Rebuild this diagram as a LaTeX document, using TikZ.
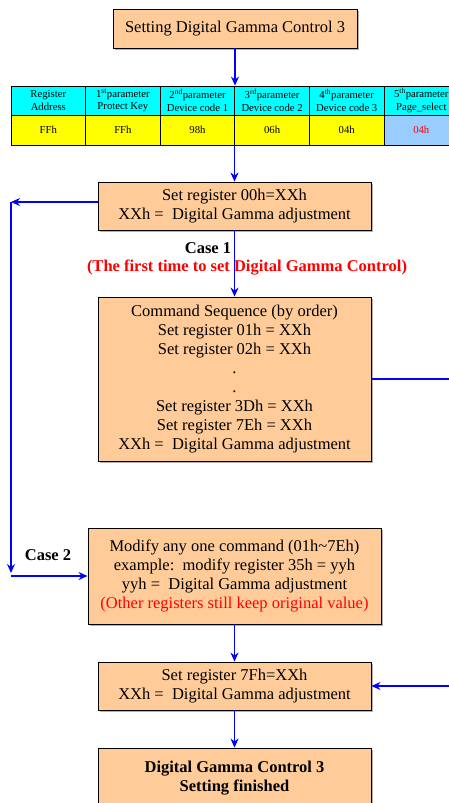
\documentclass[tikz,border=0pt]{standalone}
\usepackage{fontspec}
\setmainfont{Liberation Serif}
\usetikzlibrary{positioning,arrows.meta,shadows}
\definecolor{peach}{HTML}{FFCC99}
\definecolor{cellcyan}{HTML}{00FFFF}
\definecolor{cellyellow}{HTML}{FFFF00}
\definecolor{cellblue}{HTML}{99CCFF}
\definecolor{flowblue}{HTML}{0000FF}
\definecolor{notered}{HTML}{FF0000}

\begin{document}
\begin{tikzpicture}[x=1pt,y=-1pt,>={Stealth[length=9pt,width=8pt]},
   box/.style={draw=black,line width=0.9pt,fill=peach,align=center,inner sep=0pt,
     font=\fontsize{16.5}{19}\selectfont,
     drop shadow={shadow xshift=1.6pt,shadow yshift=-1.6pt,fill=gray!60,opacity=1}},
   cell/.style={draw=black,line width=0.8pt,align=center,inner sep=0pt,
     minimum width=74.6pt,font=\fontsize{10.7}{12.5}\selectfont},
   flow/.style={draw=flowblue,line width=1.3pt},
   caselabel/.style={font=\fontsize{16.5}{19}\selectfont\bfseries}]
  \clip (0,0) rectangle (449,803);
  \useasboundingbox (0,0) rectangle (449,803);
  \node[box,minimum width=244pt,minimum height=39pt] (start) at (235,28.5)
    {Setting Digital Gamma Control 3};
  % register table
  \foreach \head/\val/\col [count=\i] in {%
      {Register\\Address}/FFh/cellyellow,
      {1\textsuperscript{st}parameter\\Protect Key}/FFh/cellyellow,
      {2\textsuperscript{nd}parameter\\Device code 1}/98h/cellyellow,
      {3\textsuperscript{rd}parameter\\Device code 2}/06h/cellyellow,
      {4\textsuperscript{th}parameter\\Device code 3}/04h/cellyellow,
      {5\textsuperscript{th}parameter\\Page\_select}/\textcolor{notered}{04h}/cellblue} {
    \node[cell,fill=cellcyan,minimum height=29pt] (h\i) at ({11+74.6*(\i-0.5)},100.5) {\head};
    \node[cell,fill=\col,minimum height=30pt] (v\i) at ({11+74.6*(\i-0.5)},130) {\val};
  }
  \node[box,minimum width=273pt,minimum height=48pt] (reg00) at (234.5,206)
    {Set register 00h=XXh\\XXh =\ \ Digital Gamma adjustment};
  \node[box,minimum width=273pt,minimum height=164pt] (seq) at (234.5,379)
    {Command Sequence (by order)\\Set register 01h = XXh\\Set register 02h = XXh\\.\\.\\
     Set register 3Dh = XXh\\Set register 7Eh = XXh\\XXh =\ \ Digital Gamma adjustment};
  \node[box,minimum width=293pt,minimum height=96pt] (modify) at (234.5,576)
    {Modify any one command (01h\textasciitilde7Eh)\\example:\ \ modify register 35h = yyh\\
     yyh =\ \ Digital Gamma adjustment\\\textcolor{notered}{(Other registers still keep original value)}};
  \node[box,minimum width=273pt,minimum height=48pt] (reg7f) at (234.5,686)
    {Set register 7Fh=XXh\\XXh =\ \ Digital Gamma adjustment};
  \node[box,minimum width=273pt,minimum height=60pt,font=\fontsize{16.5}{19}\selectfont\bfseries]
    (done) at (234.5,778) {Digital Gamma Control 3\\Setting finished};
  \node[caselabel] (case1) at (208,248) {Case 1};
  \node[caselabel,text=notered] (case1note) at (247,268)
    {(The first time to set Digital Gamma Control)};
  \node[caselabel] (case2) at (48,555) {Case 2};
  % connectors
  \coordinate (lefttop) at (11,202);
  \coordinate (leftbot) at (11,576);
  \draw[flow,->] (start.south) -- (start.south |- h4.north);
  \draw[flow,->] (reg00.north |- v4.south) -- (reg00.north);
  \draw[flow,->] (reg00.west |- lefttop) -- (lefttop);
  \draw[flow,->,shorten >=3pt] (lefttop) -- (leftbot);
  \draw[flow,->] (leftbot) -- (modify.west);
  \draw[flow,->] (reg00.south) -- (seq.north);
  \draw[flow] (seq.east) -- ++(82,0) coordinate (rightjoint);
  \draw[flow,->] (rightjoint) |- (reg7f.east);
  \draw[flow,->] (modify.south) -- (reg7f.north);
  \draw[flow,->] (reg7f.south) -- (done.north);
\end{tikzpicture}
\end{document}
